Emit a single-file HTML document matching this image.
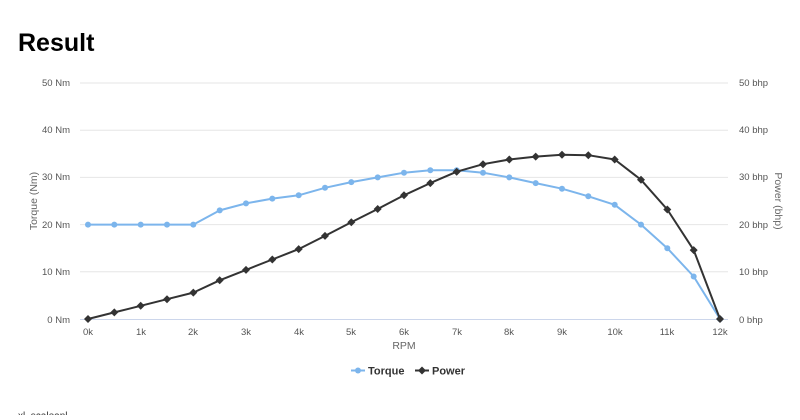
<!DOCTYPE html>
<html><head><meta charset="utf-8"><style>
body{margin:0;background:#fff;width:800px;height:415px;overflow:hidden;font-family:"Liberation Sans",sans-serif}
</style></head><body>
<svg width="800" height="415" xmlns="http://www.w3.org/2000/svg" font-family="Liberation Sans, sans-serif">
<text x="18" y="51" font-size="25" font-weight="bold" fill="#000">Result</text>
<g stroke="#e6e6e6" stroke-width="1">
<line x1="80" x2="728" y1="83" y2="83"/><line x1="80" x2="728" y1="130.2" y2="130.2"/>
<line x1="80" x2="728" y1="177.4" y2="177.4"/><line x1="80" x2="728" y1="224.6" y2="224.6"/>
<line x1="80" x2="728" y1="271.8" y2="271.8"/>
</g>
<line x1="80" x2="728" y1="319.5" y2="319.5" stroke="#ccd6eb"/>
<g font-size="9.5" fill="#555" text-anchor="end">
<text x="70" y="86">50 Nm</text><text x="70" y="133">40 Nm</text><text x="70" y="180">30 Nm</text>
<text x="70" y="228">20 Nm</text><text x="70" y="275">10 Nm</text><text x="70" y="323">0 Nm</text>
</g>
<g font-size="9.5" fill="#555">
<text x="739" y="86">50 bhp</text><text x="739" y="133">40 bhp</text><text x="739" y="180">30 bhp</text>
<text x="739" y="228">20 bhp</text><text x="739" y="275">10 bhp</text><text x="739" y="323">0 bhp</text>
</g>
<g font-size="9.5" fill="#555" text-anchor="middle">
<text x="88" y="335">0k</text><text x="141" y="335">1k</text><text x="193" y="335">2k</text><text x="246" y="335">3k</text>
<text x="299" y="335">4k</text><text x="351" y="335">5k</text><text x="404" y="335">6k</text><text x="457" y="335">7k</text>
<text x="509" y="335">8k</text><text x="562" y="335">9k</text><text x="615" y="335">10k</text><text x="667" y="335">11k</text>
<text x="720" y="335">12k</text>
<text x="404" y="349" font-size="10.5" fill="#666">RPM</text>
<text transform="translate(37,201) rotate(-90)" font-size="10.5" fill="#666">Torque (Nm)</text>
<text transform="translate(775,201) rotate(90)" font-size="10.5" fill="#666">Power (bhp)</text>
</g>
<polyline fill="none" stroke="#7cb5ec" stroke-width="2" stroke-linejoin="round" points="88,224.6 114.3,224.6 140.7,224.6 167,224.6 193.3,224.6 219.7,210.4 246,203.4 272.3,198.6 298.7,195.3 325,187.8 351.3,182.1 377.7,177.4 404,172.7 430.3,170.3 456.7,170.3 483,172.7 509.3,177.4 535.7,183.1 562,188.7 588.3,196.3 614.7,204.8 641,224.6 667.3,248.2 693.7,276.5 720,319"/>
<g fill="#7cb5ec">
<circle cx="88" cy="224.6" r="3"/><circle cx="114.3" cy="224.6" r="3"/><circle cx="140.7" cy="224.6" r="3"/><circle cx="167" cy="224.6" r="3"/><circle cx="193.3" cy="224.6" r="3"/><circle cx="219.7" cy="210.4" r="3"/><circle cx="246" cy="203.4" r="3"/><circle cx="272.3" cy="198.6" r="3"/><circle cx="298.7" cy="195.3" r="3"/><circle cx="325" cy="187.8" r="3"/><circle cx="351.3" cy="182.1" r="3"/><circle cx="377.7" cy="177.4" r="3"/><circle cx="404" cy="172.7" r="3"/><circle cx="430.3" cy="170.3" r="3"/><circle cx="456.7" cy="170.3" r="3"/><circle cx="483" cy="172.7" r="3"/><circle cx="509.3" cy="177.4" r="3"/><circle cx="535.7" cy="183.1" r="3"/><circle cx="562" cy="188.7" r="3"/><circle cx="588.3" cy="196.3" r="3"/><circle cx="614.7" cy="204.8" r="3"/><circle cx="641" cy="224.6" r="3"/><circle cx="667.3" cy="248.2" r="3"/><circle cx="693.7" cy="276.5" r="3"/><circle cx="720" cy="319" r="3"/>
</g>
<polyline fill="none" stroke="#333" stroke-width="2" stroke-linejoin="round" points="88,319 114.3,312.4 140.7,305.8 167,299.2 193.3,292.6 219.7,280.3 246,269.9 272.3,259.5 298.7,249.1 325,235.9 351.3,222.2 377.7,209 404,195.3 430.3,183.1 456.7,171.7 483,164.2 509.3,159.5 535.7,156.6 562,154.7 588.3,155.2 614.7,159.5 641,179.8 667.3,209.5 693.7,250.1 720,319"/>
<g fill="#333" id="d">
<path d="M88 315l4 4-4 4-4-4z"/><path d="M114.3 308.4l4 4-4 4-4-4z"/><path d="M140.7 301.8l4 4-4 4-4-4z"/><path d="M167 295.2l4 4-4 4-4-4z"/><path d="M193.3 288.6l4 4-4 4-4-4z"/><path d="M219.7 276.3l4 4-4 4-4-4z"/><path d="M246 265.9l4 4-4 4-4-4z"/><path d="M272.3 255.5l4 4-4 4-4-4z"/><path d="M298.7 245.1l4 4-4 4-4-4z"/><path d="M325 231.9l4 4-4 4-4-4z"/><path d="M351.3 218.2l4 4-4 4-4-4z"/><path d="M377.7 205l4 4-4 4-4-4z"/><path d="M404 191.3l4 4-4 4-4-4z"/><path d="M430.3 179.1l4 4-4 4-4-4z"/><path d="M456.7 167.7l4 4-4 4-4-4z"/><path d="M483 160.2l4 4-4 4-4-4z"/><path d="M509.3 155.5l4 4-4 4-4-4z"/><path d="M535.7 152.6l4 4-4 4-4-4z"/><path d="M562 150.7l4 4-4 4-4-4z"/><path d="M588.3 151.2l4 4-4 4-4-4z"/><path d="M614.7 155.5l4 4-4 4-4-4z"/><path d="M641 175.8l4 4-4 4-4-4z"/><path d="M667.3 205.5l4 4-4 4-4-4z"/><path d="M693.7 246.1l4 4-4 4-4-4z"/><path d="M720 315l4 4-4 4-4-4z"/>
</g>
<line x1="351" x2="365" y1="370.5" y2="370.5" stroke="#7cb5ec" stroke-width="2"/><circle cx="358" cy="370.5" r="3" fill="#7cb5ec"/>
<text x="368" y="374.5" font-size="11" font-weight="bold" fill="#333">Torque</text>
<line x1="415" x2="429" y1="370.5" y2="370.5" stroke="#333" stroke-width="2"/><path d="M422 366.5l4 4-4 4-4-4z" fill="#333"/>
<text x="432" y="374.5" font-size="11" font-weight="bold" fill="#333">Power</text>
<text x="18" y="419" font-size="10" fill="#333">xl_scaleanl</text>
</svg>
</body></html>
